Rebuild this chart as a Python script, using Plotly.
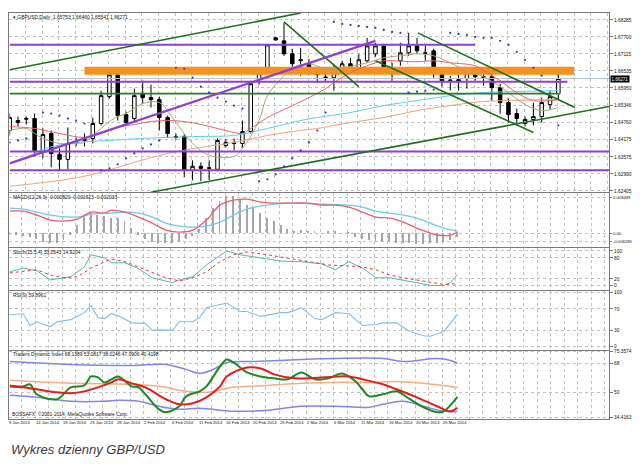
import plotly.graph_objects as go

# ================= DATA =================
# GBPUSD daily bars, bar index 0 = 9 Jan 2014 ... 66 = 27 Mar 2014
opens = [1.64483, 1.64757, 1.64894, 1.64894, 1.63730, 1.64380, 1.63661, 1.63490, 1.64072, 1.64141,
         1.64209, 1.64723, 1.65648, 1.66401, 1.65031, 1.64894, 1.65750, 1.65613, 1.65545, 1.64928,
         1.64278, 1.64278, 1.63113, 1.63250, 1.63181, 1.63147, 1.63969, 1.64038, 1.64038, 1.64449,
         1.66264, 1.66538, 1.67669, 1.67566, 1.67120, 1.66881, 1.66778, 1.66538, 1.66298, 1.66298,
         1.66538, 1.66778, 1.66641, 1.66881, 1.67120, 1.67395, 1.66641, 1.66881, 1.67155, 1.67395,
         1.67155, 1.67223, 1.66435, 1.66196, 1.66230, 1.66264, 1.66401, 1.66333, 1.66333, 1.65956,
         1.65442, 1.65065, 1.64723, 1.64860, 1.64962, 1.65374, 1.65753]
highs = [1.65065, 1.64962, 1.64962, 1.65065, 1.64552, 1.64483, 1.63867, 1.64586, 1.64244, 1.64380,
         1.64928, 1.65853, 1.66435, 1.66641, 1.65134, 1.65922, 1.66196, 1.66059, 1.65648, 1.64997,
         1.64380, 1.64346, 1.63456, 1.63387, 1.63456, 1.64209, 1.64175, 1.64209, 1.64826, 1.66196,
         1.66641, 1.67463, 1.67703, 1.68183, 1.67292, 1.67326, 1.66949, 1.66675, 1.66470, 1.66778,
         1.66881, 1.66983, 1.67120, 1.67669, 1.67497, 1.67463, 1.66812, 1.67497, 1.67840, 1.67669,
         1.67395, 1.67292, 1.66607, 1.66367, 1.66401, 1.66641, 1.66538, 1.66607, 1.66538, 1.66093,
         1.65580, 1.65237, 1.64962, 1.65442, 1.65613, 1.65853, 1.66460]
lows = [1.64312, 1.64620, 1.64689, 1.63592, 1.63524, 1.63216, 1.63113, 1.63147, 1.63935, 1.63935,
        1.64038, 1.64655, 1.65580, 1.64826, 1.64655, 1.64757, 1.65408, 1.65271, 1.64483, 1.64244,
        1.64175, 1.62874, 1.62771, 1.62737, 1.62771, 1.63079, 1.63901, 1.63798, 1.63901, 1.64380,
        1.66059, 1.66470, 1.67566, 1.67052, 1.66641, 1.66367, 1.66401, 1.66127, 1.66196, 1.65853,
        1.66435, 1.66538, 1.66538, 1.66812, 1.67018, 1.66538, 1.66196, 1.66709, 1.67052, 1.67120,
        1.66881, 1.66298, 1.65990, 1.65853, 1.65853, 1.65922, 1.66196, 1.66025, 1.65511, 1.65065,
        1.64757, 1.64655, 1.64620, 1.64655, 1.64757, 1.65202, 1.65541]
closes = [1.64928, 1.64826, 1.64877, 1.63798, 1.64346, 1.63695, 1.63490, 1.64038, 1.64107, 1.64175,
          1.64723, 1.65682, 1.66401, 1.64997, 1.64757, 1.65682, 1.65613, 1.65545, 1.64928, 1.64380,
          1.64244, 1.63113, 1.63250, 1.63181, 1.63199, 1.64141, 1.64072, 1.64055, 1.64449, 1.66093,
          1.66538, 1.67429, 1.67600, 1.67120, 1.66778, 1.66915, 1.66538, 1.66401, 1.66315, 1.66538,
          1.66778, 1.66675, 1.66915, 1.67395, 1.67395, 1.66641, 1.66607, 1.67155, 1.67395, 1.67223,
          1.67138, 1.66435, 1.66196, 1.66213, 1.66161, 1.66470, 1.66333, 1.66315, 1.65956, 1.65442,
          1.65031, 1.64894, 1.64860, 1.64962, 1.65442, 1.65648, 1.66271]

price_ticks = [1.68285, 1.67700, 1.67115, 1.66535, 1.65950, 1.65346, 1.64760, 1.64175, 1.63575, 1.62990, 1.62405]
price_tick_text = ["1.68285", "1.67700", "1.67115", "1.66535", "1.65950", "1.65346", "1.64760",
                   "1.64175", "1.63575", "1.62990", "1.62405"]
last_price = 1.66271

# moving averages (bar, price)
ma_red_bars = [0, 3, 6, 9, 11, 13, 15, 17, 19, 21, 23, 25, 27, 28, 29, 31, 33, 36, 38, 39, 41, 44, 45, 49, 51, 53, 56, 57, 59, 61, 63, 66]
ma_red_vals = [1.64620, 1.64552, 1.64380, 1.64244, 1.64380, 1.64586, 1.64689, 1.64792, 1.64826, 1.64792,
               1.64689, 1.64552, 1.64415, 1.64380, 1.64552, 1.64928, 1.65202, 1.65613, 1.65922, 1.66127,
               1.66470, 1.66812, 1.66881, 1.66846, 1.66881, 1.66812, 1.66709, 1.66538, 1.66196, 1.65785,
               1.65511, 1.65545]
ma_cyan_bars = [0, 2, 4, 7, 12, 16, 19, 23, 27, 31, 35, 37, 41, 45, 49, 53, 57, 60, 66]
ma_cyan_vals = [1.63353, 1.63558, 1.63832, 1.64038, 1.64141, 1.64209, 1.64244, 1.64278, 1.64312, 1.64552,
                1.64826, 1.64928, 1.65100, 1.65340, 1.65511, 1.65682, 1.65785, 1.65819, 1.65853]
ma_tan_bars = [0, 7, 11, 15, 19, 23, 27, 31, 35, 37, 41, 45, 49, 53, 57, 66]
ma_tan_vals = [1.62565, 1.62805, 1.63045, 1.63387, 1.63695, 1.63901, 1.64072, 1.64312, 1.64483, 1.64552,
               1.64757, 1.64928, 1.65168, 1.65340, 1.65477, 1.65545]
ma_olive_bars = [0, 2, 3, 4, 6, 8, 9, 10, 12, 13, 14, 16, 18, 20, 22, 24, 27, 28, 30, 31, 33, 34, 36, 38,
                 40, 43, 45, 47, 49, 51, 53, 55, 57, 59, 60, 62, 64, 66]
ma_olive_vals = [1.64483, 1.64552, 1.64380, 1.64209, 1.64038, 1.64038, 1.64072, 1.64312, 1.64792, 1.64962,
                 1.65065, 1.65408, 1.65442, 1.64757, 1.64038, 1.63627, 1.63593, 1.63867, 1.64826, 1.65682,
                 1.66367, 1.66641, 1.66778, 1.66607, 1.66641, 1.66812, 1.66983, 1.67052, 1.67120, 1.67052,
                 1.66812, 1.66538, 1.66333, 1.65990, 1.65785, 1.65374, 1.65168, 1.65271]

# parabolic SAR (bar, price)
sar_bars = [0, 1, 2, 4, 5, 6, 7, 8, 9, 11, 12, 13, 14, 15, 16, 17, 18, 20, 21, 22, 23, 24, 25, 26, 27, 28,
            30, 31, 32, 33, 34, 35, 36, 37, 38, 39, 40, 41, 42, 43, 44, 45, 46, 47, 48, 49, 50, 51,
            53, 54, 55, 56, 57, 58, 59, 60, 61, 62, 63, 64, 66]
sar_vals = [1.64072, 1.64141, 1.64209, 1.65100, 1.65065, 1.64997, 1.64894, 1.64826, 1.64723, 1.63113,
            1.63181, 1.63320, 1.63524, 1.63695, 1.63867, 1.64004, 1.64141, 1.66641, 1.66607, 1.66298,
            1.65990, 1.65785, 1.65613, 1.65477, 1.65340, 1.65237, 1.62737, 1.62805, 1.62976, 1.63250,
            1.63524, 1.63798, 1.64072, 1.64483, 1.65100, 1.68217, 1.68148, 1.68114, 1.68080, 1.68046,
            1.68011, 1.67943, 1.67874, 1.67840, 1.65785, 1.65819, 1.65853, 1.65887, 1.67840, 1.67806,
            1.67771, 1.67703, 1.67669, 1.67669, 1.67566, 1.67430, 1.67190, 1.66915, 1.66641, 1.66367,
            1.64655]

# horizontal levels
purple_levels = [1.67429, 1.66161, 1.63764, 1.63113]
purple_from = [0, 0, 0, 0]
purple_to = [56, 67.1, 73, 73]
green_level = 1.65750
green_from, green_to = 0, 66.2
zone_low, zone_high = 1.66401, 1.66675
zone_from, zone_to = 9, 67.9

# trend lines (bar0, price0, bar1, price1)
green_trends = [(0, 1.66572, 35.0, 1.68525),
                (17.0, 1.62361, 72.1, 1.65306),
                (33.0, 1.68217, 42.0, 1.65990),
                (44.0, 1.66881, 63.0, 1.64415),
                (49.1, 1.67840, 68.0, 1.65271)]
purple_trend = (0, 1.63353, 44.0, 1.67566)

# MACD(12,26,9)
macd_hist = [-0.0004, -0.0004, -0.0006, -0.0008, -0.0012, -0.0018, -0.0020, -0.0020, -0.0014, -0.0004,
             0.0016, 0.0036, 0.0040, 0.0036, 0.0034, 0.0030, 0.0030, 0.0024, 0.0010, -0.0004,
             -0.0012, -0.0018, -0.0020, -0.0020, -0.0020, -0.0018, -0.0012, -0.0006, 0.0008, 0.0030,
             0.0050, 0.0064, 0.0074, 0.0074, 0.0066, 0.0056, 0.0050, 0.0040, 0.0030, 0.0024,
             0.0016, 0.0008, 0.0004, 0.0006, 0.0004, 0.0002, 0.0, 0.0002, 0.0002, 0.0,
             -0.0002, -0.0008, -0.0012, -0.0014, -0.0016, -0.0018, -0.0018, -0.0020, -0.0020, -0.0020,
             -0.0022, -0.0022, -0.0020, -0.0020, -0.0018, -0.0014, -0.0008]
macd_red_bars = [0, 2, 4, 6, 8, 10, 12, 14, 15, 17, 19, 21, 23, 25, 27, 29, 31, 33, 35, 37, 39, 41, 44, 46,
                 48, 50, 52, 54, 56, 58, 60, 62, 63, 65, 66]
macd_red_vals = [0.0044, 0.0044, 0.0036, 0.0026, 0.0024, 0.0028, 0.0042, 0.0040, 0.0046, 0.0042, 0.0032,
                 0.0020, 0.0006, 0.0002, 0.0006, 0.0026, 0.0056, 0.0066, 0.0068, 0.0062, 0.0060, 0.0060,
                 0.0060, 0.0056, 0.0056, 0.0052, 0.0042, 0.0032, 0.0030, 0.0022, 0.0010, 0.0, -0.0004,
                 -0.0004, 0.0002]
macd_cyan_bars = [0, 2, 4, 6, 9, 11, 12, 15, 17, 19, 21, 23, 25, 27, 29, 31, 33, 35, 37, 39, 42, 46, 50,
                  52, 54, 56, 58, 60, 62, 64, 66]
macd_cyan_vals = [0.0050, 0.0048, 0.0042, 0.0036, 0.0032, 0.0034, 0.0038, 0.0040, 0.0042, 0.0040, 0.0032,
                  0.0020, 0.0014, 0.0012, 0.0014, 0.0022, 0.0036, 0.0048, 0.0054, 0.0058, 0.0060, 0.0058,
                  0.0056, 0.0052, 0.0044, 0.0040, 0.0036, 0.0030, 0.0020, 0.0010, 0.0004]

# Stoch(15,5,4)
stoch_main_bars = [0, 2, 4, 6, 8, 9, 11, 12, 14, 15, 17, 19, 21, 24, 25, 27, 29, 32, 34, 37, 40, 43, 46,
                   48, 50, 52, 54, 56, 58, 60, 62, 64, 65, 66]
stoch_main_vals = [40, 51, 43, 17, 23, 26, 54, 89, 80, 66, 66, 49, 23, 9, 17, 26, 60, 100, 89, 80, 71, 69,
                   63, 46, 69, 51, 23, 23, 17, 9, 1, 1, 9, 33.05]
stoch_sig_bars = [0, 4, 6, 8, 10, 12, 14, 15, 17, 19, 21, 23, 25, 27, 29, 31, 33, 35, 38, 41, 44, 47, 50,
                  52, 54, 56, 58, 60, 62, 64, 66]
stoch_sig_vals = [37, 46, 31, 23, 26, 51, 69, 77, 69, 54, 37, 23, 14, 23, 40, 69, 89, 97, 89, 80, 69, 60,
                  57, 54, 46, 31, 23, 17, 9, 4, 6]

# RSI(9)
rsi_bars = [0, 2, 3, 4, 5, 6, 7, 9, 11, 12, 13, 14, 15, 16, 18, 20, 21, 22, 24, 25, 27, 28, 29, 31, 32,
            34, 35, 37, 40, 41, 43, 45, 46, 48, 50, 52, 54, 55, 57, 59, 61, 62, 64, 66]
rsi_vals = [59, 61, 39, 46, 41, 37, 46, 50, 63, 76, 54, 52, 61, 57, 44, 43, 30, 31, 30, 46, 46, 54, 72,
            78, 81, 65, 65, 56, 63, 63, 72, 52, 50, 63, 61, 39, 41, 44, 44, 28, 20, 19, 28, 59.90]

# Traders Dynamic Index
tdi_up_bars = [0, 9, 18, 23, 26, 28, 30, 32, 36, 43, 48, 55, 58, 63, 65, 66]
tdi_up_vals = [69.2, 67.4, 66.8, 67.4, 64.3, 61.8, 64.3, 68.6, 69.2, 70.5, 71.1, 71.1, 69.2, 71.1, 69.9, 68.14]
tdi_lo_bars = [0, 4, 9, 14, 16, 19, 22, 25, 28, 33, 38, 43, 48, 53, 55, 58, 61, 64, 66]
tdi_lo_vals = [48.1, 46.9, 44.4, 44.4, 45.0, 44.4, 41.3, 39.4, 40.1, 38.2, 38.8, 41.3, 41.3, 40.7, 42.5,
               44.4, 41.3, 38.2, 38.02]
tdi_mid_bars = [0, 9, 18, 23, 26, 29, 33, 38, 43, 48, 53, 57, 61, 66]
tdi_mid_vals = [57.5, 55.6, 55.0, 53.1, 50.6, 50.0, 53.1, 54.3, 55.6, 56.2, 56.2, 56.8, 55.6, 53.08]
tdi_green_bars = [0, 2, 3, 4, 7, 9, 11, 12, 13, 14, 15, 16, 18, 19, 20, 22, 23, 25, 26, 28, 29, 31, 32, 33,
                  35, 37, 39, 41, 43, 45, 47, 49, 51, 52, 53, 55, 57, 59, 61, 63, 64, 66]
tdi_green_vals = [54.3, 53.7, 55.0, 48.8, 45.7, 53.1, 54.3, 59.9, 59.3, 56.2, 58.1, 59.9, 53.7, 53.1, 48.8,
                  39.4, 37.6, 41.3, 47.5, 50.6, 53.7, 66.1, 70.5, 68.6, 62.4, 59.9, 58.7, 58.1, 62.4, 58.1,
                  58.7, 61.8, 56.8, 51.9, 47.5, 48.8, 50.6, 45.7, 40.7, 37.6, 38.2, 47.09]
tdi_red_bars = [0, 2, 4, 7, 9, 11, 13, 15, 16, 18, 20, 23, 25, 27, 29, 31, 32, 35, 37, 39, 42, 46, 50, 52,
                55, 57, 60, 63, 65, 66]
tdi_red_vals = [53.7, 53.1, 51.9, 50.0, 49.4, 50.6, 53.1, 56.2, 58.1, 55.6, 53.1, 45.7, 42.5, 43.2, 46.9,
                53.7, 59.9, 65.5, 64.9, 61.2, 58.7, 59.3, 59.9, 58.1, 55.0, 51.9, 46.9, 41.3, 38.2, 40.42]

date_labels = ["9 Jan 2014", "14 Jan 2014", "19 Jan 2014", "23 Jan 2014", "28 Jan 2014", "2 Feb 2014",
               "6 Feb 2014", "11 Feb 2014", "16 Feb 2014", "20 Feb 2014", "25 Feb 2014", "2 Mar 2014",
               "6 Mar 2014", "11 Mar 2014", "16 Mar 2014", "20 Mar 2014", "25 Mar 2014"]
date_label_bars = [0, 4, 8, 12, 16, 20, 24, 28, 32, 36, 40, 44, 48, 52, 56, 60, 64]

main_title = "\u25be GBPUSD,Daily  1.65753 1.66460 1.65541 1.66271"
macd_title = "MACD(12,26,9) -0.000820 -0.001623 -0.002033"
stoch_title = "Stoch(15,5,4) 33.0543 14.9204"
rsi_title = "RSI(9) 59.8961"
tdi_title = "Traders Dynamic Index 68.1389 53.0817 38.0246 47.0906 40.4198"
copyright_text = "BOSSAFX, \u00a92001-2014, MetaQuotes Software Corp."
caption = "Wykres dzienny GBP/USD"

# ================= STYLE / LAYOUT =================
# the page adds an 8px body margin, so the figure is 632x460 and page pixels are shifted by 8
OFF = 8
W, H = 640 - OFF, 468 - OFF
def px(x):
    return (x - OFF) / W
def py(y):
    return 1 - (y - OFF) / H

XD = [px(8.5), px(609)]
GRID = "#c2c2c2"
FRAME = "#7a7a7a"
FAM = "Liberation Sans, Arial, sans-serif"
TXT = dict(family=FAM, size=4.9, color="#111111")
TICKF = dict(family=FAM, size=4.8, color="#111111")
SMALLTICK = dict(family=FAM, size=4.2, color="#111111")
PURPLE = "#9040d0"
DGREEN = "#1f6f1f"

fig = go.Figure()

fig.add_trace(go.Scatter(x=[zone_from, zone_to, zone_to, zone_from, zone_from],
                         y=[zone_low, zone_low, zone_high, zone_high, zone_low],
                         fill="toself", fillcolor="#f7901e", mode="lines", line=dict(width=0),
                         xaxis="x", yaxis="y", hoverinfo="skip"))
fig.add_trace(go.Scatter(x=[-1, 80], y=[last_price, last_price], mode="lines",
                         line=dict(color="#b8c4cc", width=1), xaxis="x", yaxis="y"))
for bx, vals, col in [(ma_tan_bars, ma_tan_vals, "#eaa47a"), (ma_cyan_bars, ma_cyan_vals, "#5ad0e6"),
                      (ma_red_bars, ma_red_vals, "#e8636b"), (ma_olive_bars, ma_olive_vals, "#a8a878")]:
    fig.add_trace(go.Scatter(x=bx, y=vals, mode="lines", line=dict(color=col, width=1, shape="spline"),
                             xaxis="x", yaxis="y"))
fig.add_trace(go.Scatter(x=[green_from, green_to], y=[green_level, green_level], mode="lines",
                         line=dict(color="#2e7a2e", width=1.6), xaxis="x", yaxis="y"))
fig.add_trace(go.Candlestick(x=list(range(len(opens))), open=opens, high=highs, low=lows, close=closes,
                             increasing=dict(line=dict(color="black", width=1), fillcolor="white"),
                             decreasing=dict(line=dict(color="black", width=1), fillcolor="black"),
                             whiskerwidth=0, xaxis="x", yaxis="y"))
for lv, a, b in zip(purple_levels, purple_from, purple_to):
    fig.add_trace(go.Scatter(x=[a, b], y=[lv, lv], mode="lines", line=dict(color=PURPLE, width=2),
                             xaxis="x", yaxis="y"))
for b0, p0, b1, p1 in green_trends:
    fig.add_trace(go.Scatter(x=[b0, b1], y=[p0, p1], mode="lines", line=dict(color=DGREEN, width=1.6),
                             xaxis="x", yaxis="y"))
fig.add_trace(go.Scatter(x=[purple_trend[0], purple_trend[2]], y=[purple_trend[1], purple_trend[3]],
                         mode="lines", line=dict(color=PURPLE, width=2.2), xaxis="x", yaxis="y"))
fig.add_trace(go.Scatter(x=sar_bars, y=sar_vals, mode="markers",
                         marker=dict(color="#3a3aa8", size=2.2), xaxis="x", yaxis="y"))

fig.add_trace(go.Bar(x=list(range(len(macd_hist))), y=macd_hist, width=0.14,
                     marker=dict(color="#a6a6a6", line=dict(width=0)), xaxis="x2", yaxis="y2"))
fig.add_trace(go.Scatter(x=macd_cyan_bars, y=macd_cyan_vals, mode="lines",
                         line=dict(color="#74c8ec", width=1.3, shape="spline"), xaxis="x2", yaxis="y2"))
fig.add_trace(go.Scatter(x=macd_red_bars, y=macd_red_vals, mode="lines",
                         line=dict(color="#e8606a", width=1.3, shape="spline"), xaxis="x2", yaxis="y2"))
fig.add_trace(go.Scatter(x=stoch_main_bars, y=stoch_main_vals, mode="lines",
                         line=dict(color="#4fb9ae", width=1), xaxis="x3", yaxis="y3"))
fig.add_trace(go.Scatter(x=stoch_sig_bars, y=stoch_sig_vals, mode="lines",
                         line=dict(color="#e03a3a", width=1, dash="dot"), xaxis="x3", yaxis="y3"))
fig.add_trace(go.Scatter(x=rsi_bars, y=rsi_vals, mode="lines",
                         line=dict(color="#84bde6", width=1.1), xaxis="x4", yaxis="y4"))
for bx, vals, col, wd in [(tdi_up_bars, tdi_up_vals, "#8585e6", 1.5), (tdi_lo_bars, tdi_lo_vals, "#8585e6", 1.5),
                          (tdi_mid_bars, tdi_mid_vals, "#f4ae80", 1.5),
                          (tdi_green_bars, tdi_green_vals, "#1e8a1e", 2.0),
                          (tdi_red_bars, tdi_red_vals, "#e01e1e", 2.0)]:
    fig.add_trace(go.Scatter(x=bx, y=vals, mode="lines", line=dict(color=col, width=wd, shape="spline"),
                             xaxis="x5", yaxis="y5"))

panels = [(12, 192), (193, 247), (248, 290), (291, 350), (351, 420)]
yranges = [[1.62360, 1.68525], [-0.0028, 0.0080], [-11.4, 108.6], [-5.6, 103.7], [33.24, 76.07]]
yticks = [
    (price_ticks, price_tick_text),
    ([0.0072, 0.0, -0.0018], ["0.008499", "0.00", "-0.006285"]),
    ([100, 80, 20, 0], ["100", "80", "20", "0"]),
    ([100, 70, 30, 0], ["100", "70", "30", "0"]),
    ([75.3574, 68, 50, 34.4163], ["75.3574", "68", "50", "34.4163"]),
]
tickfonts = [TICKF, SMALLTICK, TICKF, TICKF, TICKF]
ticklens = [3, 2, 3, 3, 3]
xranges = [[-0.02, 72.1]] + [[-0.03, 88.35]] * 4
xtick0 = [1.9, 1.75, 1.75, 1.75, 1.75]

layout = dict(width=W, height=H, margin=dict(l=0, r=0, t=0, b=0), paper_bgcolor="white",
              plot_bgcolor="white", showlegend=False, boxgap=0.4, font=TXT, bargap=0)
for i, (top, bot) in enumerate(panels):
    n = "" if i == 0 else str(i + 1)
    layout["xaxis" + n] = dict(domain=XD, range=xranges[i], anchor="y" + n, showticklabels=False,
                               ticks="", showgrid=True, gridcolor=GRID, griddash="dot", gridwidth=1,
                               tick0=xtick0[i], dtick=2, zeroline=False, showline=True,
                               mirror=True, linecolor=FRAME, linewidth=1.2, fixedrange=True,
                               rangeslider=dict(visible=False))
    layout["yaxis" + n] = dict(domain=[py(bot), py(top)], range=yranges[i], anchor="x" + n, side="right",
                               tickmode="array", tickvals=yticks[i][0], ticktext=yticks[i][1],
                               ticks="outside", ticklen=ticklens[i], tickcolor=FRAME, tickfont=tickfonts[i],
                               showgrid=True, gridcolor=GRID, griddash="dot", zeroline=False,
                               showline=True, mirror=True, linecolor=FRAME, linewidth=1.2,
                               fixedrange=True)
fig.update_layout(**layout)

ann = []
ann.append(dict(x=px(609), xref="paper", y=last_price, yref="y", text="1.66271", showarrow=False,
                xanchor="left", yanchor="middle", bgcolor="black",
                font=dict(family=FAM, size=4.5, color="white"), borderpad=0.5, xshift=1))
for title, ypx in [(main_title, 16.5), (macd_title, 197.5), (stoch_title, 252.5), (rsi_title, 295.5),
                   (tdi_title, 355.5)]:
    ann.append(dict(x=px(10), xref="paper", y=py(ypx), yref="paper", text=title, showarrow=False,
                    xanchor="left", yanchor="middle", font=TXT))
ann.append(dict(x=px(9), xref="paper", y=py(414.5), yref="paper", text=copyright_text, showarrow=False,
                xanchor="left", yanchor="middle", font=TXT))
for lab, b in zip(date_labels, date_label_bars):
    ann.append(dict(x=b, xref="x5", y=py(423.5), yref="paper", text=lab, showarrow=False,
                    xanchor="left", yanchor="middle", xshift=-3, font=dict(TXT, size=4.2)))
ann.append(dict(x=px(8), xref="paper", y=py(450), yref="paper", text="<i>" + caption + "</i>",
                showarrow=False, xanchor="left", yanchor="middle",
                font=dict(family=FAM, size=13, color="#3c3c3c")))
fig.update_layout(annotations=ann)

fig.write_html("out.html")
